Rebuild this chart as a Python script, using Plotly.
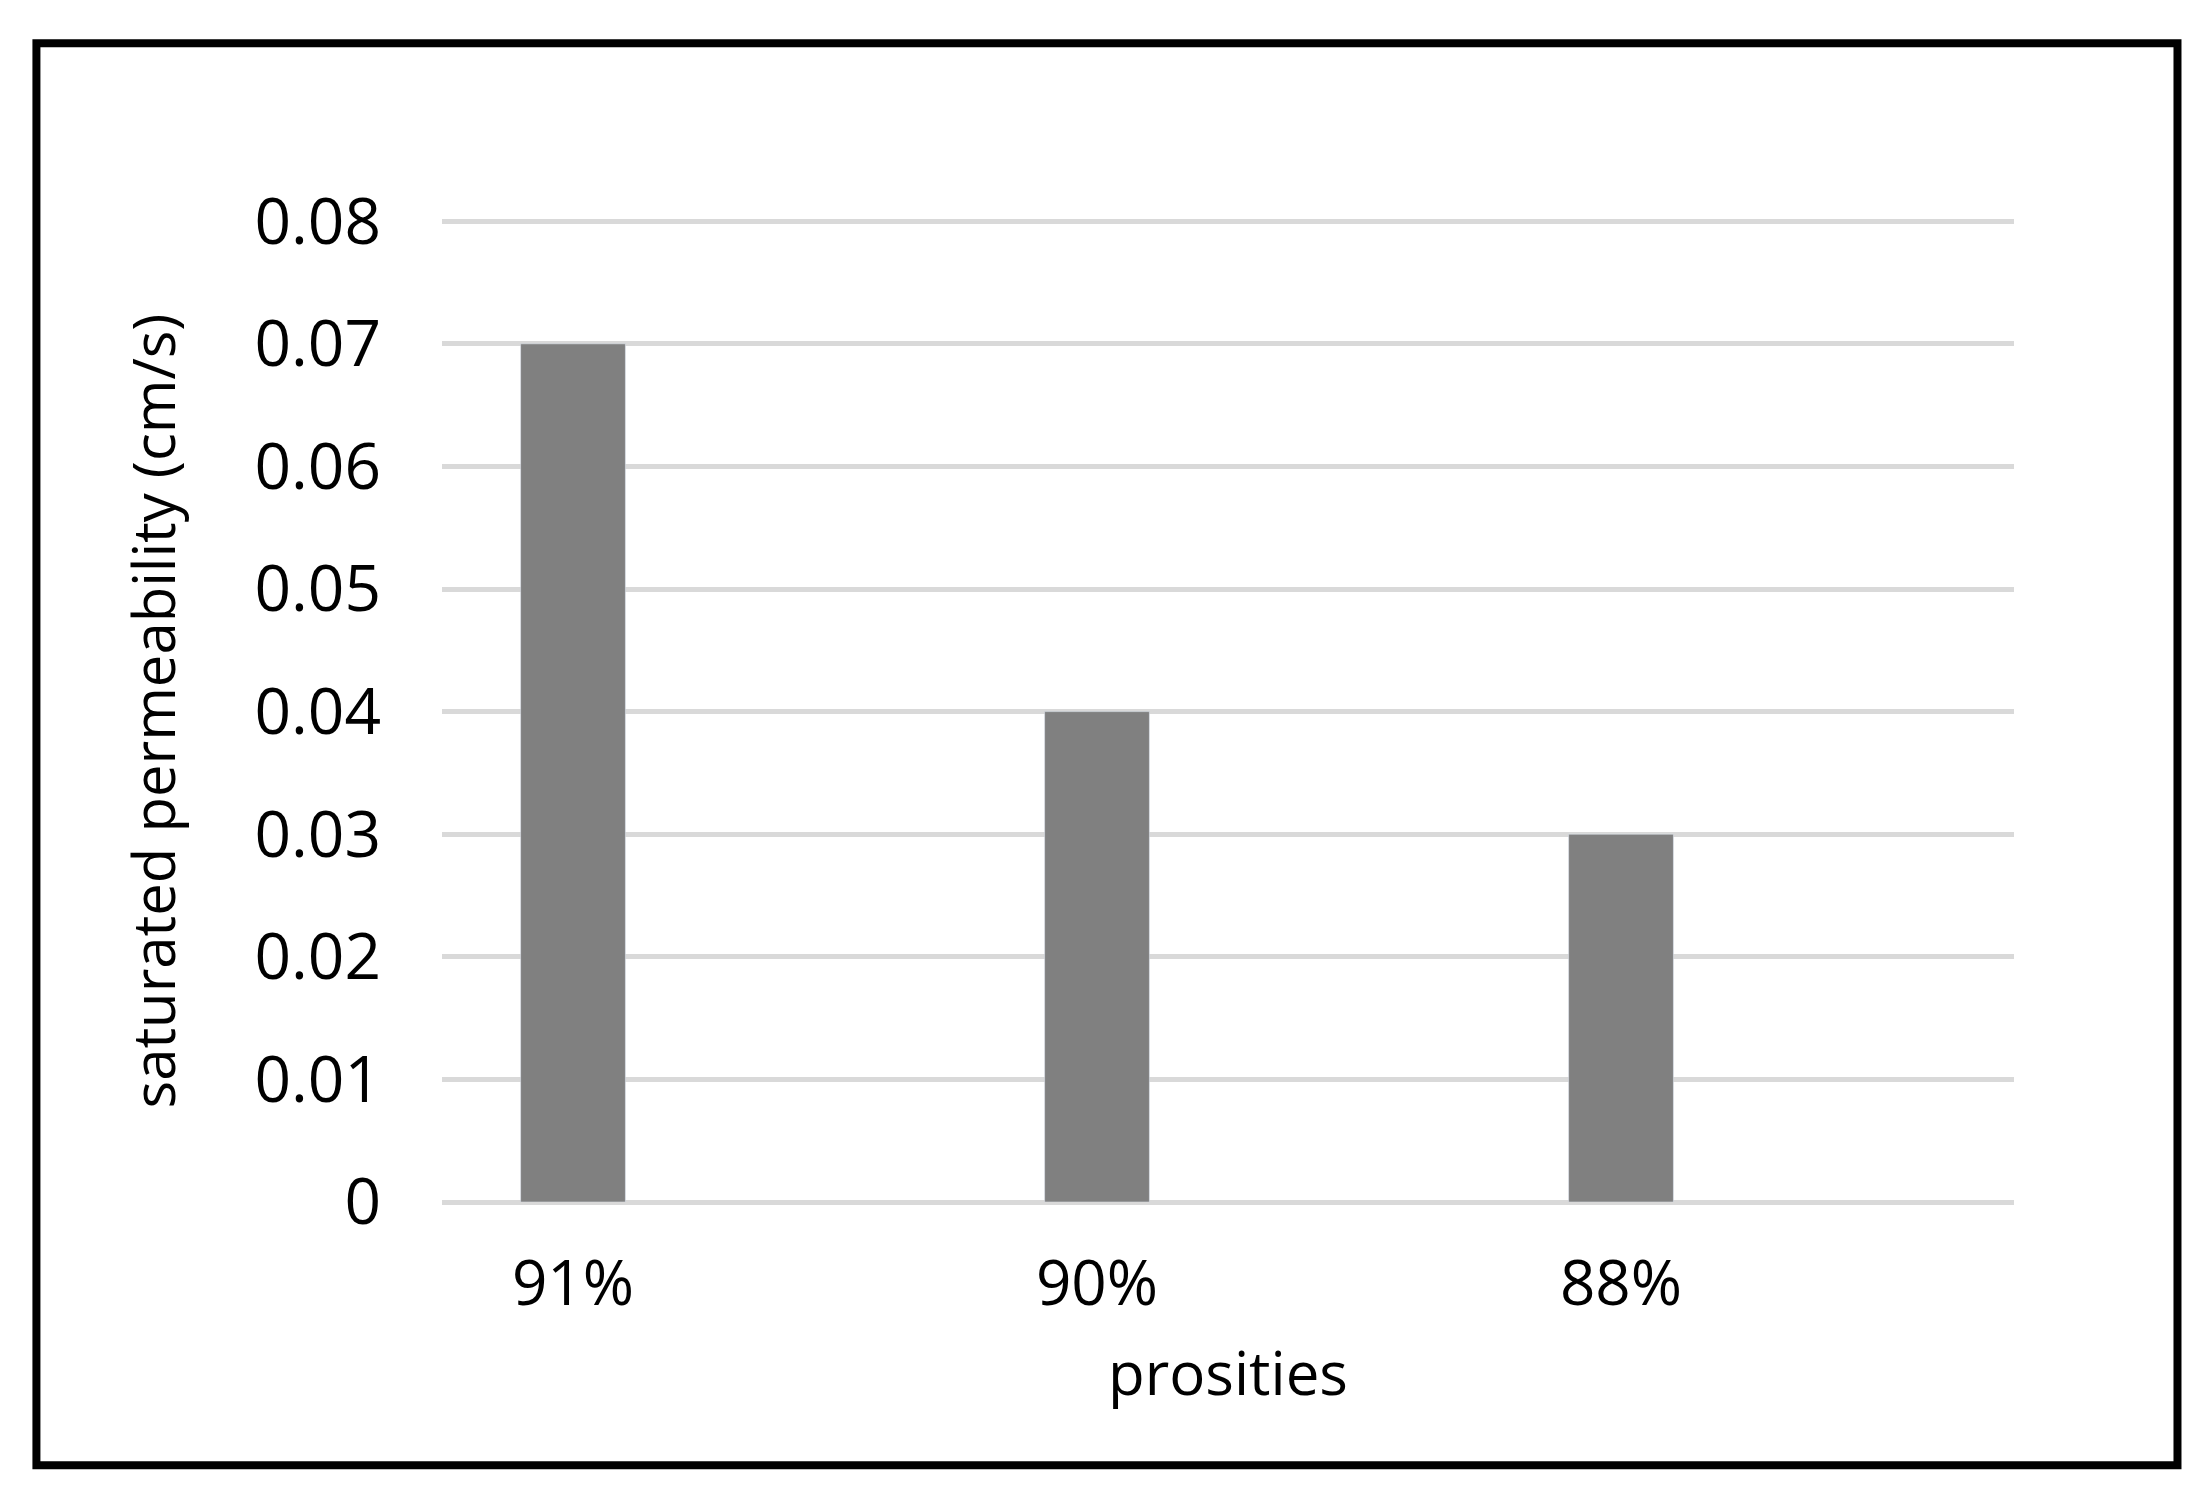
import plotly.graph_objects as go

categories = ["91%", "90%", "88%"]
values = [0.07, 0.04, 0.03]
y_ticks = [0, 0.01, 0.02, 0.03, 0.04, 0.05, 0.06, 0.07, 0.08]
y_labels = ["0", "0.01", "0.02", "0.03", "0.04", "0.05", "0.06", "0.07", "0.08"]

font = "Open Sans, Liberation Sans, sans-serif"
fig = go.Figure(go.Bar(x=categories, y=values, marker_color="#808080", width=0.2))
fig.update_layout(
    width=2197, height=1499,
    margin=dict(l=434, r=191, t=212, b=305),
    paper_bgcolor="white", plot_bgcolor="white",
    showlegend=False,
    font=dict(family=font, color="black"),
    xaxis=dict(range=[-0.25, 2.75], tickfont=dict(size=62), showgrid=False, showline=False,
               ticks="", ticklabelstandoff=40,
               title=dict(text="prosities", font=dict(size=60), standoff=30)),
    yaxis=dict(range=[0, 0.0801], tickvals=y_ticks, ticktext=y_labels,
               tickfont=dict(size=64), gridcolor="#d9d9d9", gridwidth=5,
               zeroline=True, zerolinecolor="#d9d9d9", zerolinewidth=5,
               ticks="", ticklen=0, ticklabelstandoff=60,
               title=dict(text="saturated permeability (cm/s)", font=dict(size=58), standoff=60)),
    shapes=[dict(type="rect", xref="paper", yref="paper",
                 x0=-0.258, x1=1.104, y0=-0.268, y1=1.180,
                 line=dict(color="black", width=8), fillcolor="rgba(0,0,0,0)")],
)
fig.write_html("out.html")
